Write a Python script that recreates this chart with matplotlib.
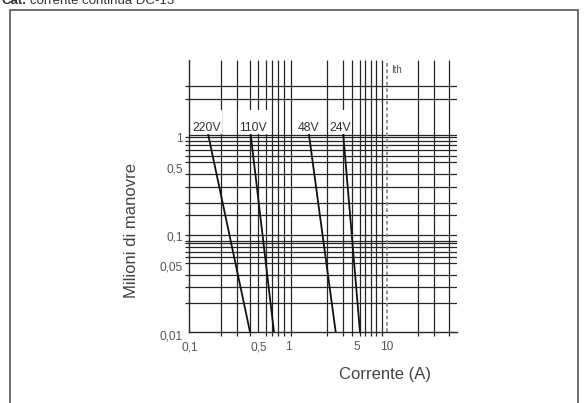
import matplotlib
matplotlib.use("Agg")
import matplotlib.pyplot as plt
from matplotlib.path import Path
from matplotlib.patches import Rectangle
from matplotlib.ticker import FixedLocator, FixedFormatter, NullFormatter
from matplotlib.transforms import ScaledTranslation

plt.rcParams['font.family'] = ['Liberation Sans', 'DejaVu Sans']

# ---------------- data ----------------
series_names = ["220V", "110V", "48V", "24V"]
series_x = [[0.155, 0.411], [0.418, 0.719], [1.63, 3.04], [3.63, 5.36]]   # current (A)
series_y = [[1.0, 0.01], [1.0, 0.01], [1.0, 0.01], [1.0, 0.01]]           # million operations
label_x = [0.149, 0.441, 1.61, 3.38]
label_y = 1.098

x_grid = [0.21, 0.305, 0.41, 0.50, 0.59, 0.68, 0.785, 0.91, 1.06,
          2.46, 3.63, 4.42, 5.36, 6.02, 6.88, 7.79, 8.89, 20.9, 30.2, 42.8]
y_grid = [3.15, 2.30, 1.0, 0.948, 0.875, 0.79, 0.705, 0.616, 0.536, 0.402,
          0.299, 0.203, 0.155, 0.0966, 0.0845, 0.0796, 0.0735, 0.0654,
          0.0577, 0.0506, 0.0377, 0.0284, 0.0195]
ith_x = 10.0

x_ticks = [0.1, 0.5, 1, 5, 10]
x_ticklabels = ["0,1", "0,5", "1", "5", "10"]
y_ticks = [1, 0.5, 0.1, 0.05, 0.01]
y_ticklabels = ["1", "0,5", "0,1", "0,05", "0,01"]
x_range = (0.1, 51.3)
y_range = (0.01, 5.77)

# ---------------- figure ----------------
W, H = 587, 403
fig = plt.figure(figsize=(W / 100, H / 100), dpi=100)
fig.patch.set_facecolor("white")

def fx(px):
    return px / W

def fy(py):
    return 1 - py / H

ax = fig.add_axes([fx(189.5), fy(332), fx(456.7) - fx(189.5), fy(60) - fy(332)])
ax.set_xscale("log")
ax.set_yscale("log")
ax.set_xlim(*x_range)
ax.set_ylim(*y_range)

gc = "#262626"
ax.vlines(x_grid, 0, 1, transform=ax.get_xaxis_transform(), colors=gc, lw=0.9, zorder=1)
ax.hlines(y_grid, 0, 1, transform=ax.get_yaxis_transform(), colors=gc, lw=0.9, zorder=1)
ax.vlines([ith_x], 0, 1, transform=ax.get_xaxis_transform(), colors="#8a8a8a",
          lw=1.3, linestyles=(0, (2, 1.5)), zorder=1)

for xs, ys in zip(series_x, series_y):
    ax.plot(xs, ys, color="#111111", lw=1.3, zorder=2)


def label_box(x0, y0, width, height, mutation_size):
    px = 0.06 * mutation_size
    top = 0.95 * mutation_size
    return Path([(x0 - px, y0), (x0 + width + px, y0),
                 (x0 + width + px, y0 + height + top),
                 (x0 - px, y0 + height + top), (x0 - px, y0)], closed=True)


for name, lx in zip(series_names, label_x):
    ax.text(lx, label_y, name, ha="center", va="baseline", fontsize=8.8,
            color="#333333", zorder=3,
            bbox=dict(boxstyle=label_box, facecolor="white", edgecolor="none"))

ith = ax.text(ith_x, 0.963, "Ith", fontsize=7, color="#555555", ha="left", va="center", zorder=3)
ith.set_transform(ax.get_xaxis_transform() + ScaledTranslation(3 / 72, 0, fig.dpi_scale_trans))

# ticks
ax.xaxis.set_major_locator(FixedLocator(x_ticks))
ax.xaxis.set_major_formatter(FixedFormatter(x_ticklabels))
ax.xaxis.set_minor_locator(FixedLocator(x_grid + [ith_x]))
ax.xaxis.set_minor_formatter(NullFormatter())
ax.yaxis.set_major_locator(FixedLocator(y_ticks))
ax.yaxis.set_major_formatter(FixedFormatter(y_ticklabels))
ax.yaxis.set_minor_locator(FixedLocator(y_grid))
ax.yaxis.set_minor_formatter(NullFormatter())
ax.tick_params(axis="x", which="major", length=0, pad=6.5, labelsize=8.6, labelcolor="#555555")
ax.tick_params(axis="y", which="major", length=0, pad=5, labelsize=8.6, labelcolor="#555555")
ax.tick_params(which="minor", length=3, width=0.9, color=gc)
for lab in ax.get_yticklabels():
    lab.set_transform(lab.get_transform() + ScaledTranslation(0, -3 / 100, fig.dpi_scale_trans))

for s in ("top", "right"):
    ax.spines[s].set_visible(False)
for s in ("left", "bottom"):
    ax.spines[s].set_color(gc)
    ax.spines[s].set_linewidth(1.0)
ax.set_facecolor("white")

# axis titles
fig.text(fx(385), fy(375), "Corrente (A)", ha="center", va="center", fontsize=12, color="#444444")
fig.text(fx(132), fy(231), "Milioni di manovre", ha="center", va="center", rotation=90,
         fontsize=12, color="#444444")

# outer frame and clipped header
fig.add_artist(Rectangle((fx(10), -0.1), fx(578) - fx(10), fy(10) + 0.1,
                         transform=fig.transFigure, fill=False, edgecolor="#555555", lw=1.2))
t1 = fig.text(fx(2), fy(4), "Cat.", ha="left", va="baseline", fontsize=9.5,
              fontweight="bold", color="#333333")
fig.canvas.draw()
bb = t1.get_window_extent()
fig.text(bb.x1 / W + fx(3), fy(4), "corrente continua DC-13", ha="left", va="baseline",
         fontsize=9.5, color="#333333")

fig.savefig("out.png", dpi=100, facecolor="white")
